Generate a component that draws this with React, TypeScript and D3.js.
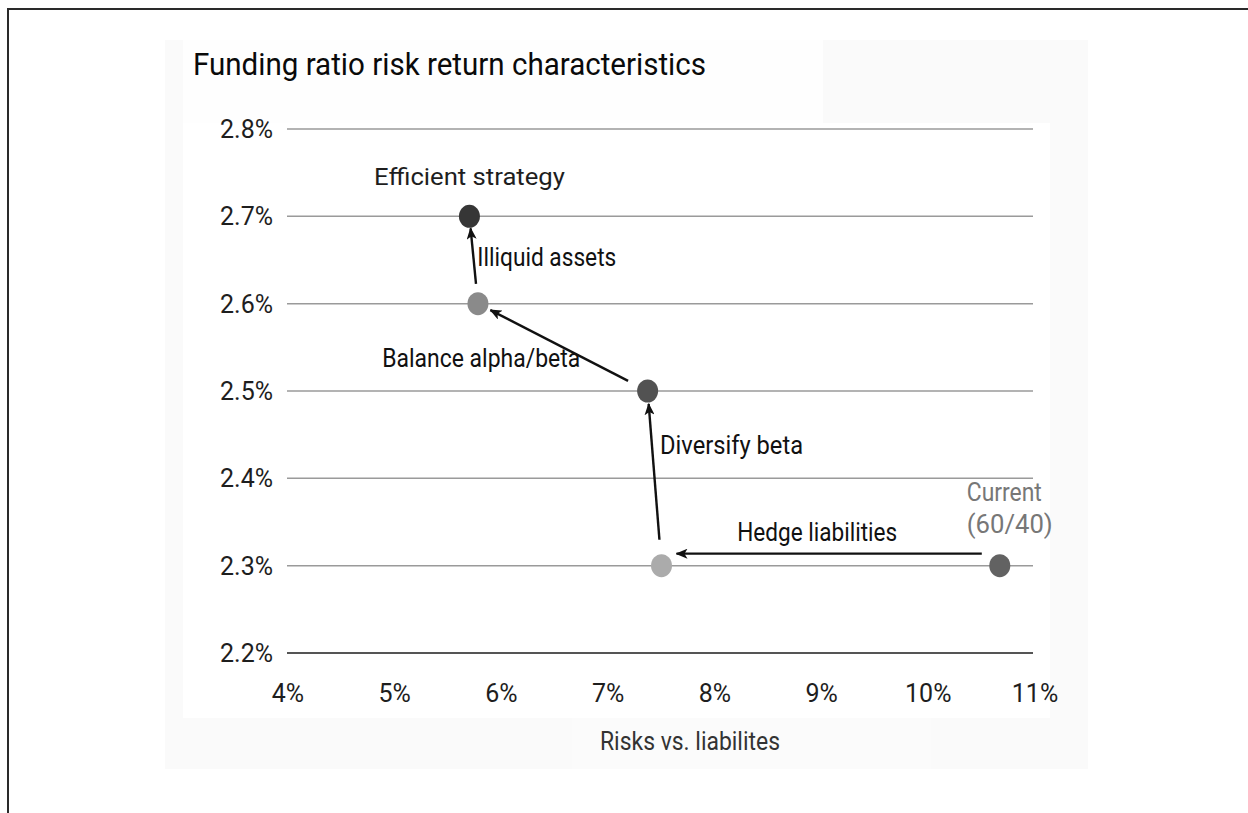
import React from "react";
import * as d3 from "d3";

// ---- data ----
const stageNames = ["Current (60/40)", "Hedged", "Diversified", "Balanced", "Efficient strategy"];
const riskValues = [10.67, 7.5, 7.37, 5.78, 5.7]; // risk vs. liabilities, %
const returnValues = [2.3, 2.3, 2.5, 2.6, 2.7]; // funding ratio return, %
const stepLabels = ["Hedge liabilities", "Diversify beta", "Balance alpha/beta", "Illiquid assets"];
const xTicks = [4, 5, 6, 7, 8, 9, 10, 11];
const yTicks = [2.2, 2.3, 2.4, 2.5, 2.6, 2.7, 2.8];
const title = "Funding ratio risk return characteristics";
const xAxisTitle = "Risks vs. liabilites";

// ---- styles / layout ----
const pointColors = ["#626262", "#ababab", "#525252", "#8a8a8a", "#363636"];
const FONT = "Roboto, 'Liberation Sans', sans-serif";
// arrow geometry tweaks: [startShorten, endShorten, dy]
const arrowStyle = [
  [18, 15, -12],
  [26, 13, 0],
  [22, 14, 0],
  [20, 12, 0],
];
// step label layout relative to arrow midpoint: dx, dy, anchor, textLength
const stepLabelLayout: [number, number, string, number][] = [
  [-12, -13, "middle", 160],
  [6, -18, "start", 143],
  [21, 21, "end", 198],
  [4, 10, "start", 139],
];

export default function App() {
  const W = 1248, H = 813;
  const x = d3.scaleLinear().domain([4, 11]).range([288, 1035]);
  const y = d3.scaleLinear().domain([2.2, 2.8]).range([653, 129]);
  const pts = riskValues.map((r, i) => ({ x: x(r), y: y(returnValues[i]), name: stageNames[i] }));

  const arrows = stepLabels.map((lab, i) => {
    const a = pts[i], b = pts[i + 1];
    const [s0, s1, dy] = arrowStyle[i];
    const dx = b.x - a.x, ddy = b.y - a.y;
    const len = Math.hypot(dx, ddy);
    const ux = dx / len, uy = ddy / len;
    const x1 = a.x + ux * s0, y1 = a.y + uy * s0 + dy;
    const x2 = b.x - ux * s1, y2 = b.y - uy * s1 + dy;
    return { x1, y1, x2, y2, mx: (x1 + x2) / 2, my: (y1 + y2) / 2, lab, i };
  });

  const [x0, x1] = x.range();
  const last = pts[pts.length - 1];
  const first = pts[0];

  return (
    <svg width={W} height={H} style={{ position: "absolute", left: 0, top: 0, background: "#fff" }}>
      <defs>
        <marker id="arr" viewBox="0 0 12 10" refX="11" refY="5" markerWidth="12" markerHeight="10"
          markerUnits="userSpaceOnUse" orient="auto">
          <path d="M0,0 L12,5 L0,10 L3,5 Z" fill="#111" />
        </marker>
      </defs>
      {/* frame */}
      <line x1={7} x2={W} y1={9} y2={9} stroke="#2a2a2a" strokeWidth={2} />
      <line x1={8} x2={8} y1={9} y2={H} stroke="#2a2a2a" strokeWidth={2} />
      {/* scanned panel background */}
      <rect x={165} y={40} width={923} height={729} fill="#fafafa" />
      <rect x={183} y={40} width={640} height={84} fill="#fefefe" />
      <rect x={183} y={123} width={867} height={595} fill="#ffffff" />
      <rect x={572} y={718} width={359} height={51} fill="#fbfbfb" />

      {/* title */}
      <text x={193} y={75} fontFamily={FONT} fontSize={31} fill="#0a0a0a" textLength={513}
        lengthAdjust="spacingAndGlyphs">{title}</text>

      {/* gridlines */}
      {yTicks.map((t) => (
        <line key={t} x1={x0 - 1} x2={x1 - 2} y1={y(t)} y2={y(t)}
          stroke={t === 2.2 ? "#555" : "#9a9a9a"} strokeWidth={t === 2.2 ? 1.8 : 1.5} />
      ))}
      {/* y tick labels */}
      {yTicks.map((t) => (
        <text key={t} x={273} y={y(t) + 9} textAnchor="end" fontFamily={FONT} fontSize={25} fill="#1e1e1e">
          {d3.format(".1f")(t) + "%"}
        </text>
      ))}
      {/* x tick labels */}
      {xTicks.map((t) => (
        <text key={t} x={x(t)} y={702} textAnchor="middle" fontFamily={FONT} fontSize={25} fill="#1e1e1e">
          {t + "%"}
        </text>
      ))}
      <text x={600} y={750} fontFamily={FONT} fontSize={25} fill="#333" textLength={180}
        lengthAdjust="spacingAndGlyphs">{xAxisTitle}</text>

      {/* arrows */}
      {arrows.map((a) => (
        <line key={a.i} x1={a.x1} y1={a.y1} x2={a.x2} y2={a.y2} stroke="#111" strokeWidth={2.4}
          markerEnd="url(#arr)" />
      ))}
      {arrows.map((a) => {
        const [dx, dy, anchor, tl] = stepLabelLayout[a.i];
        return (
          <text key={"l" + a.i} x={a.mx + dx} y={a.my + dy} textAnchor={anchor as any} fontFamily={FONT}
            fontSize={25} fill="#111" textLength={tl} lengthAdjust="spacingAndGlyphs">{a.lab}</text>
        );
      })}

      {/* points */}
      {pts.map((p, i) => (
        <ellipse key={i} cx={p.x} cy={p.y} rx={10.5} ry={11.5} fill={pointColors[i]} />
      ))}

      {/* point labels */}
      <text x={last.x} y={last.y - 31} textAnchor="middle" fontFamily={FONT} fontSize={24} fill="#1e1e1e"
        textLength={191} lengthAdjust="spacingAndGlyphs">{last.name}</text>
      <text x={first.x - 33} y={first.y - 65} fontFamily={FONT} fontSize={25} fill="#777"
        textLength={75} lengthAdjust="spacingAndGlyphs">{first.name.split(" ")[0]}</text>
      <text x={first.x - 33} y={first.y - 33} fontFamily={FONT} fontSize={25} fill="#777"
        textLength={86} lengthAdjust="spacingAndGlyphs">{first.name.split(" ")[1]}</text>
    </svg>
  );
}
